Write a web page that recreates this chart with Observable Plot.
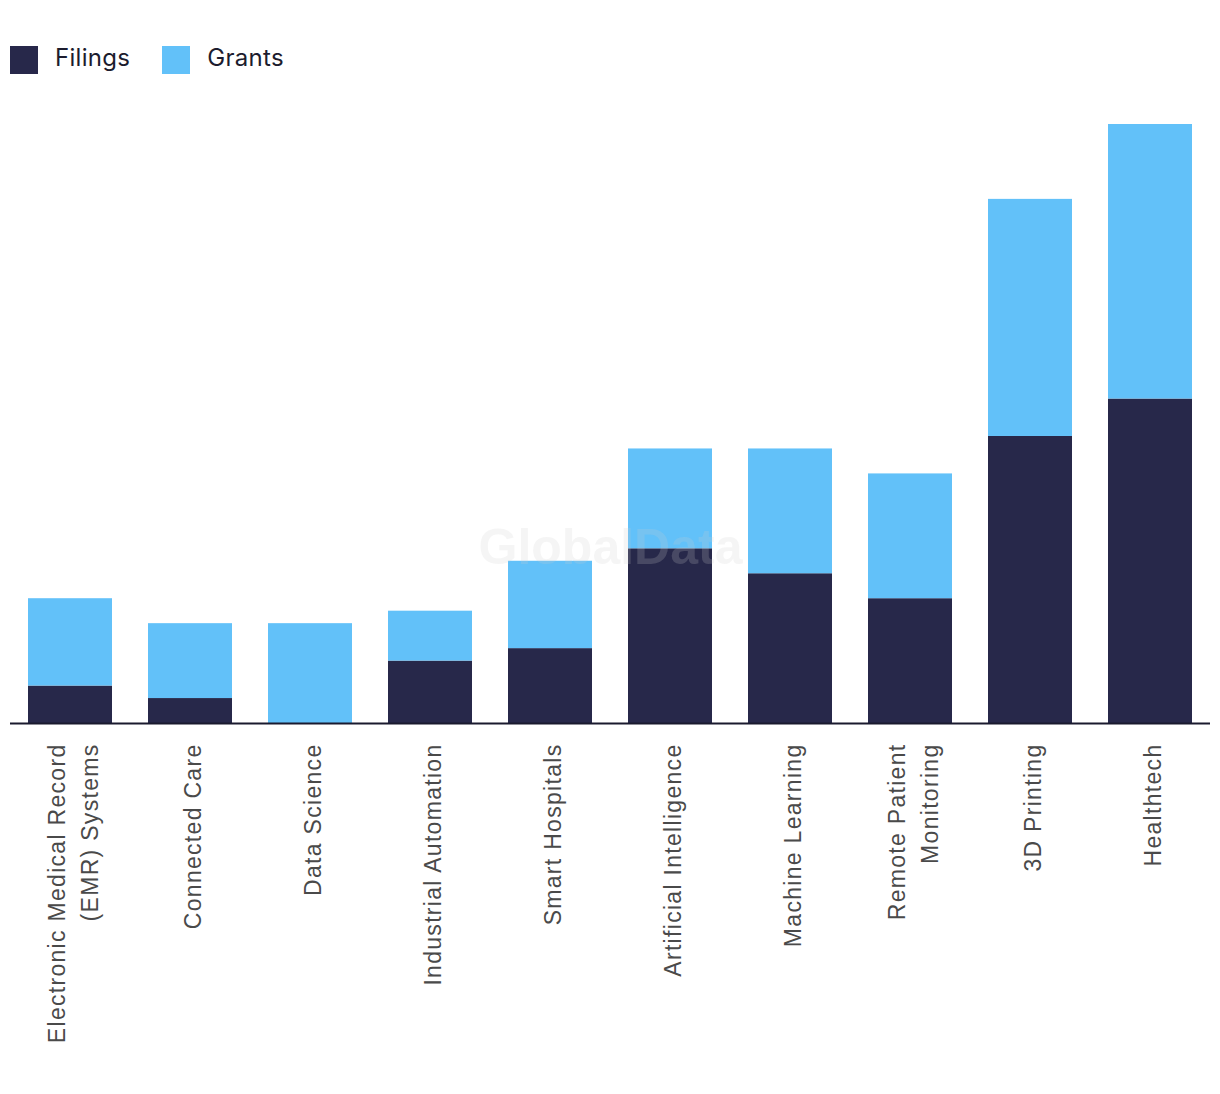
<!DOCTYPE html>
<html>
<head>
<meta charset="utf-8">
<script src="https://cdn.jsdelivr.net/npm/d3@7"></script>
<script src="https://cdn.jsdelivr.net/npm/@observablehq/plot@0.6"></script>
<style>
  html, body { margin: 0; padding: 0; background: #fff; }
  #wrap { position: relative; width: 1220px; height: 1094px; }
  #legend { position: absolute; left: 10px; top: 46px; height: 28px; display: flex; align-items: center;
            font-family: Inter, "Noto Sans", sans-serif; font-size: 24px; color: #1c1c2e; }
  .item { display: flex; align-items: center; }
  .item span { position: relative; top: -3px; letter-spacing: 0.3px; }
  .sw { width: 28px; height: 28px; margin-right: 17px; }
  #chart { position: absolute; left: 0; top: 100px; }
</style>
</head>
<body>
<div id="wrap">
  <div id="legend"></div>
  <div id="chart"></div>
</div>
<script>
const categories = [
  "Electronic Medical Record\n(EMR) Systems",
  "Connected Care",
  "Data Science",
  "Industrial Automation",
  "Smart Hospitals",
  "Artificial Intelligence",
  "Machine Learning",
  "Remote Patient\nMonitoring",
  "3D Printing",
  "Healthtech"
];
const filings = [3, 2, 0, 5, 6, 14, 12, 10, 23, 26];
const grants  = [7, 6, 8, 4, 7, 8, 10, 10, 19, 22];
const seriesNames = ["Filings", "Grants"];
const seriesColors = ["#27284a", "#62c1f9"];
const watermark = "GlobalData";

const rows = [];
categories.forEach((c, i) => {
  rows.push({category: c, series: "Filings", value: filings[i]});
  rows.push({category: c, series: "Grants", value: grants[i]});
});

// legend
const legend = document.getElementById("legend");
seriesNames.forEach((s, i) => {
  const it = document.createElement("div");
  it.className = "item";
  it.style.marginRight = i === 0 ? "32px" : "0";
  const sw = document.createElement("div");
  sw.className = "sw";
  sw.style.background = seriesColors[i];
  const t = document.createElement("span");
  t.textContent = s;
  it.appendChild(sw); it.appendChild(t);
  legend.appendChild(it);
});

const chart = Plot.plot({
  width: 1220,
  height: 994,
  marginLeft: 10,
  marginRight: 10,
  marginTop: 24,
  marginBottom: 371,
  x: {domain: categories, paddingInner: 0.3, paddingOuter: 0.15, axis: null},
  y: {domain: [0, 48], axis: null},
  color: {domain: seriesNames, range: seriesColors},
  style: {background: "transparent"},
  marks: [
    Plot.barY(rows, {x: "category", y: "value", fill: "series"}),
    Plot.ruleY([0], {stroke: "#1a1a2e", strokeWidth: 2}),
    Plot.text(categories, {
      x: d => d,
      frameAnchor: "bottom",
      rotate: -90,
      textAnchor: "end",
      lineAnchor: "middle",
      lineHeight: 1.45,
      dy: 20,
      fontSize: 23,
      fontFamily: "Liberation Sans, Arial, sans-serif",
      fill: "#4a4a4a"
    }),
    Plot.text([watermark], {
      frameAnchor: "middle",
      dy: 124,
      fontSize: 50,
      fontWeight: "bold",
      fontFamily: "Liberation Sans, Arial, sans-serif",
      fill: "#cccccc",
      fillOpacity: 0.2
    })
  ]
});
d3.select(chart).selectAll("text")
  .filter(function() { return this.textContent !== watermark; })
  .style("letter-spacing", "1.3px");
document.getElementById("chart").appendChild(chart);
</script>
</body>
</html>
